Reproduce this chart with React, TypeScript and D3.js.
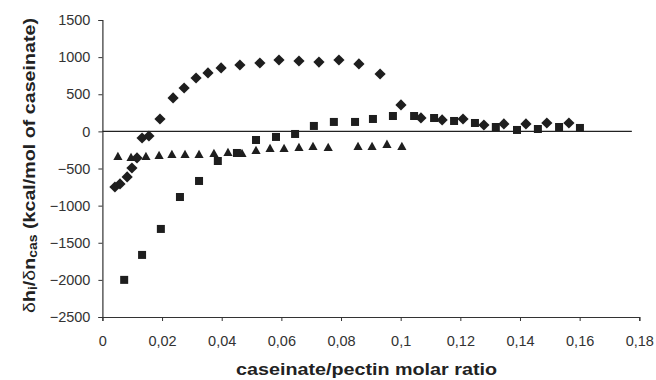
import { useEffect, useRef } from 'react'
import * as d3 from 'd3'

// Three titration series (x = caseinate/pectin molar ratio,
// y = δhi/δncas in kcal/mol of caseinate).
const DIAMOND_X = [
  0.0042, 0.0059, 0.0083, 0.0099, 0.0116, 0.0133, 0.0156, 0.0193, 0.0237, 0.0274,
  0.0314, 0.0354, 0.0398, 0.0461, 0.0528, 0.0592, 0.0659, 0.0726, 0.0793, 0.086,
  0.0931, 0.1001, 0.1068, 0.1139, 0.1209, 0.1279, 0.1346, 0.142, 0.149, 0.1564,
]
const DIAMOND_Y = [
  -749, -708, -614, -493, -358, -89, -62, 167, 450, 584,
  719, 787, 854, 894, 921, 961, 948, 934, 961, 908,
  773, 356, 181, 154, 167, 86, 100, 100, 113, 113,
]

const SQUARE_X = [
  0.0073, 0.0133, 0.0196, 0.026, 0.0324, 0.0387, 0.0451, 0.0515, 0.0582, 0.0646,
  0.0709, 0.0776, 0.0847, 0.0907, 0.0974, 0.1045, 0.1112, 0.1179, 0.1249, 0.1319,
  0.139, 0.146, 0.1531, 0.1601,
]
const SQUARE_Y = [
  -2000, -1664, -1314, -884, -668, -399, -291, -116, -75, -35,
  73, 127, 127, 167, 207, 207, 180, 140, 113, 59,
  19, 32, 59, 46,
]

const TRIANGLE_X = [
  0.0052, 0.0096, 0.0146, 0.019, 0.0233, 0.0277, 0.0324, 0.0374, 0.0421, 0.0468,
  0.0515, 0.0562, 0.0609, 0.0659, 0.0706, 0.0757, 0.0857, 0.0904, 0.0954, 0.1004,
]
const TRIANGLE_Y = [
  -331, -345, -331, -318, -304, -304, -304, -291, -277, -291,
  -250, -223, -223, -210, -196, -210, -196, -196, -169, -196,
]

const X_TICKS = [0, 0.02, 0.04, 0.06, 0.08, 0.1, 0.12, 0.14, 0.16, 0.18]
const Y_TICKS = [-2500, -2000, -1500, -1000, -500, 0, 500, 1000, 1500]

const FONT = 'Arial, "Liberation Sans", Helvetica, sans-serif'
const INK = '#1e1e1e'

const App = () => {
  const ref = useRef<SVGSVGElement>(null)

  useEffect(() => {
    if (!ref.current) return
    const svg = d3.select(ref.current)
    svg.selectAll('*').remove()

    const x = d3.scaleLinear().domain([0, 0.18]).range([102.4, 639.3])
    const y = d3.scaleLinear().domain([-2500, 1500]).range([317, 20])

    // X axis (bottom, at -2500)
    const xAxis = svg
      .append('g')
      .attr('transform', `translate(0,${y(-2500)})`)
      .call(
        d3
          .axisBottom(x)
          .tickValues(X_TICKS)
          .tickSize(4)
          .tickPadding(15)
          .tickFormat((d) => String(d).replace('.', ','))
      )
    xAxis.select('.domain').attr('stroke', '#333').attr('stroke-width', 1.2)
    xAxis.selectAll('line').attr('stroke', '#333')
    xAxis
      .selectAll('text')
      .style('font-family', FONT)
      .style('font-size', '14.5px')
      .style('fill', '#333')

    // Y axis
    const yAxis = svg
      .append('g')
      .attr('transform', `translate(${x(0)},0)`)
      .call(d3.axisLeft(y).tickValues(Y_TICKS).tickSize(4).tickPadding(8).tickFormat(d3.format('d')))
    yAxis.select('.domain').attr('stroke', '#333').attr('stroke-width', 1.2)
    yAxis.selectAll('line').attr('stroke', '#333')
    yAxis
      .selectAll('text')
      .style('font-family', FONT)
      .style('font-size', '14.5px')
      .style('fill', '#333')

    // Zero line
    svg
      .append('line')
      .attr('x1', x(0))
      .attr('x2', x(0.1775))
      .attr('y1', y(0))
      .attr('y2', y(0))
      .attr('stroke', '#222')
      .attr('stroke-width', 1.2)

    const plot = svg.append('g')

    // Squares
    plot
      .selectAll('rect.sq')
      .data(d3.zip(SQUARE_X, SQUARE_Y))
      .enter()
      .append('rect')
      .attr('x', (d) => x(d[0]) - 4)
      .attr('y', (d) => y(d[1]) - 4)
      .attr('width', 8)
      .attr('height', 8)
      .attr('fill', INK)

    // Triangles
    plot
      .selectAll('path.tri')
      .data(d3.zip(TRIANGLE_X, TRIANGLE_Y))
      .enter()
      .append('path')
      .attr('d', 'M0,-4.3L4.6,4L-4.6,4Z')
      .attr('transform', (d) => `translate(${x(d[0])},${y(d[1])})`)
      .attr('fill', INK)

    // Diamonds
    plot
      .selectAll('path.dia')
      .data(d3.zip(DIAMOND_X, DIAMOND_Y))
      .enter()
      .append('path')
      .attr('d', 'M0,-5.6L5.6,0L0,5.6L-5.6,0Z')
      .attr('transform', (d) => `translate(${x(d[0])},${y(d[1])})`)
      .attr('fill', INK)

    // X title
    svg
      .append('text')
      .attr('x', 366.5)
      .attr('y', 375)
      .attr('text-anchor', 'middle')
      .attr('textLength', 261)
      .attr('lengthAdjust', 'spacingAndGlyphs')
      .style('font-family', FONT)
      .style('font-size', '17px')
      .style('font-weight', '700')
      .style('fill', '#222')
      .text('caseinate/pectin molar ratio')

    // Y title with subscripts
    const yt = svg
      .append('text')
      .attr('transform', `translate(35,165.5) rotate(-90)`)
      .attr('text-anchor', 'middle')
      .attr('textLength', 295)
      .attr('lengthAdjust', 'spacingAndGlyphs')
      .style('font-family', FONT)
      .style('font-size', '17px')
      .style('font-weight', '700')
      .style('fill', '#222')
    yt.append('tspan').style('font-weight', '400').text('δ')
    yt.append('tspan').text('h')
    yt.append('tspan').attr('dy', 2).style('font-size', '12px').text('i')
    yt.append('tspan').attr('dy', -2).text('/')
    yt.append('tspan').style('font-weight', '400').text('δ')
    yt.append('tspan').text('n')
    yt.append('tspan').attr('dy', 2).style('font-size', '12px').text('cas')
    yt.append('tspan').attr('dy', -2).text(' (kcal/mol of caseinate)')
  }, [])

  return (
    <svg
      ref={ref}
      width={656}
      height={380}
      style={{ position: 'absolute', left: 0, top: 0, background: '#fff' }}
    />
  )
}

export default App
